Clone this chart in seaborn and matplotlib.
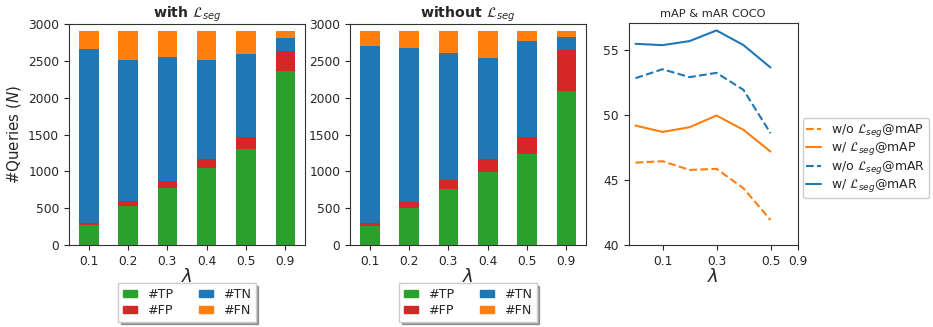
import numpy as np
import pandas as pd
import matplotlib
matplotlib.use("Agg")
import matplotlib.pyplot as plt
import seaborn as sns

# lambda values for the stacked bars
lambdas = ["0.1", "0.2", "0.3", "0.4", "0.5", "0.9"]

# query counts, model trained with L_seg
with_tp = [265, 535, 780, 1045, 1305, 2360]
with_fp = [30, 60, 87, 117, 157, 277]
with_tn = [2360, 1910, 1680, 1343, 1125, 168]
with_fn = [245, 395, 353, 395, 313, 95]

# query counts, model trained without L_seg
wo_tp = [259, 508, 763, 985, 1235, 2093]
wo_fp = [36, 78, 113, 177, 231, 549]
wo_tn = [2406, 2088, 1730, 1371, 1299, 182]
wo_fn = [199, 226, 294, 367, 135, 76]

# COCO metrics
wo_map = [46.33, 46.44, 45.77, 45.85, 44.36, 41.92]
w_map = [49.18, 48.69, 49.05, 49.95, 48.85, 47.18]
wo_mar = [52.82, 53.51, 52.90, 53.23, 51.92, 48.59]
w_mar = [55.46, 55.36, 55.67, 56.49, 55.36, 53.64]
line_ticks = [1, 3, 5, 6]
line_ticklabels = ["0.1", "0.3", "0.5", "0.9"]

C_TP, C_FP, C_TN, C_FN = "#2ca02c", "#d62728", "#1f77b4", "#ff7f0e"
C_BLUE, C_ORANGE = "#1f77b4", "#ff7f0e"

sns.set_style("ticks")
plt.rcParams["font.family"] = ["DejaVu Sans"]
plt.rcParams["mathtext.fontset"] = "dejavusans"

W, H = 933, 327
fig = plt.figure(figsize=(W / 100, H / 100), dpi=100)


def px_axes(x0, y0, x1, y1):
    return fig.add_axes([x0 / W, 1 - y1 / H, (x1 - x0) / W, (y1 - y0) / H])


ax1 = px_axes(69, 24, 305, 245)
ax2 = px_axes(350, 24, 586, 245)
ax3 = px_axes(628.5, 22.5, 797.5, 245)


def stacked(ax, tp, fp, tn, fn, title):
    df = pd.DataFrame({"lam": lambdas, "TP": tp, "FP": fp, "TN": tn, "FN": fn})
    df["c_tp"] = df["TP"]
    df["c_fp"] = df["c_tp"] + df["FP"]
    df["c_tn"] = df["c_fp"] + df["TN"]
    df["c_fn"] = df["c_tn"] + df["FN"]
    # draw cumulative totals from the top segment down so each layer shows its own slice
    for col, color in [("c_fn", C_FN), ("c_tn", C_TN), ("c_fp", C_FP), ("c_tp", C_TP)]:
        sns.barplot(data=df, x="lam", y=col, order=lambdas, color=color,
                    width=0.5, saturation=1, linewidth=0, ax=ax, errorbar=None)
    ax.set_xlim(-0.5, 5.5)
    ax.set_ylim(0, 3000)
    ax.set_yticks([0, 500, 1000, 1500, 2000, 2500, 3000])
    ax.set_xlabel(r"$\lambda$", fontsize=13, labelpad=0)
    ax.set_ylabel("")
    ax.tick_params(labelsize=8.8, length=3.5, width=0.8)
    ax.set_title(title, fontsize=10.2, fontweight="bold", pad=3)
    handles = [plt.Rectangle((0, 0), 1, 1, color=c) for c in (C_TP, C_FP, C_TN, C_FN)]
    ax.legend(handles, ["#TP", "#FP", "#TN", "#FN"], ncol=2, loc="upper center",
              bbox_to_anchor=(0.5, -0.145), fontsize=9.2, shadow=True,
              fancybox=False, framealpha=1, handlelength=1.1, handleheight=0.55,
              columnspacing=2.0, handletextpad=0.8, borderpad=0.35,
              labelspacing=0.25)
    for s in ax.spines.values():
        s.set_linewidth(0.8)
        s.set_color("#333333")


stacked(ax1, with_tp, with_fp, with_tn, with_fn, r"with $\mathcal{L}_{seg}$")
stacked(ax2, wo_tp, wo_fp, wo_tn, wo_fn, r"without $\mathcal{L}_{seg}$")
ax1.set_ylabel(r"#Queries ($N$)", fontsize=10.8, labelpad=4)

# metric curves
pos = np.arange(len(w_map))
lines = pd.DataFrame({
    "pos": np.tile(pos, 4),
    "value": wo_map + w_map + wo_mar + w_mar,
    "series": (["wo_map"] * 6 + ["w_map"] * 6 + ["wo_mar"] * 6 + ["w_mar"] * 6),
})
labels = {
    "wo_map": r"w/o $\mathcal{L}_{seg}$@mAP",
    "w_map": r"w/ $\mathcal{L}_{seg}$@mAP",
    "wo_mar": r"w/o $\mathcal{L}_{seg}$@mAR",
    "w_mar": r"w/ $\mathcal{L}_{seg}$@mAR",
}
styles = {
    "wo_map": (C_ORANGE, "--"),
    "w_map": (C_ORANGE, "-"),
    "wo_mar": (C_BLUE, "--"),
    "w_mar": (C_BLUE, "-"),
}
for key in ["wo_map", "w_map", "wo_mar", "w_mar"]:
    sub = lines[lines["series"] == key]
    color, ls = styles[key]
    sns.lineplot(data=sub, x="pos", y="value", color=color, linestyle=ls,
                 linewidth=1.5, ax=ax3, label=labels[key])
ax3.set_xlim(-0.26, 6.0)
ax3.set_ylim(40, 57.1)
ax3.set_yticks([40, 45, 50, 55])
ax3.set_xticks(line_ticks)
ax3.set_xticklabels(line_ticklabels)
ax3.set_xlabel(r"$\lambda$", fontsize=13, labelpad=0)
ax3.set_ylabel("")
ax3.tick_params(labelsize=8.8, length=3.5, width=0.8)
ax3.set_title("mAP & mAR COCO", fontsize=8.2, pad=4)
for s in ax3.spines.values():
    s.set_linewidth(0.8)
    s.set_color("#333333")
ax3.legend(loc="center left", bbox_to_anchor=(1.015, 0.39), fontsize=9.0,
           frameon=True, fancybox=True, framealpha=1, borderpad=0.3,
           labelspacing=0.12, handlelength=1.2, handletextpad=0.8,
           borderaxespad=0.2)

fig.savefig("out.png", dpi=100)
